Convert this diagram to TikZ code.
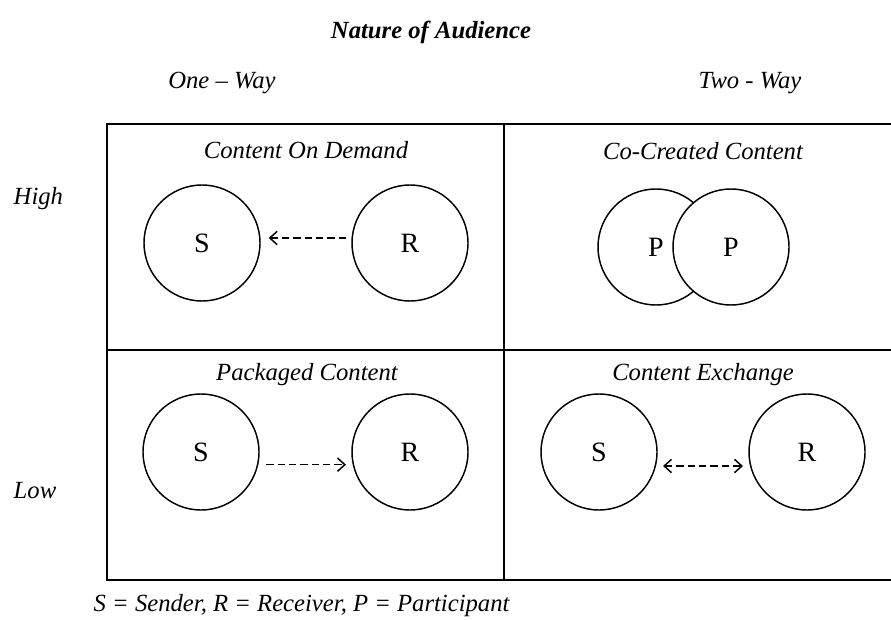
\documentclass[tikz,border=0pt]{standalone}
\usepackage{fontspec}
\setmainfont{Liberation Serif}
\usetikzlibrary{arrows.meta,positioning}

\tikzset{
  lbl/.style={font=\fontsize{18.5}{22}\selectfont\itshape},
  party/.style={circle,draw,line width=1.1pt,minimum size=87pt,inner sep=0pt,
    font=\fontsize{21}{24}\selectfont},
  flow/.style={line width=1.1pt,dash pattern=on 5.5pt off 3pt,
    -{Straight Barb[length=5.5pt,width=10pt,line width=1.1pt]}}
}

\begin{document}
\begin{tikzpicture}[x=0.75pt,y=-0.75pt]
 \useasboundingbox (0,0) rectangle (891,620);
 \node[lbl,font=\fontsize{18.5}{22}\selectfont\bfseries\itshape] (title) at (431,32) {Nature of Audience};
 \node[lbl] (oneway) at (222,83) {One -- Way};
 \node[lbl] (twoway) at (750,83) {Two - Way};
 \node[lbl,anchor=west] (high) at (9,199) {High};
 \node[lbl,anchor=west] (low) at (9,491) {Low};
 \node[lbl,anchor=west] (key) at (89,606) {S = Sender, R = Receiver, P = Participant};
 \draw[line width=1.6pt] (107,124) rectangle (895,580);
 \draw[line width=1.6pt] (504,124) -- (504,580);
 \draw[line width=1.6pt] (107,350) -- (895,350);
 \foreach \x/\y/\t in {306/150/Content On Demand,703/151/Co-Created Content,
   307/375/Packaged Content,703/375/Content Exchange}
   {\node[lbl] at (\x,\y) {\t};}
 \node[party] (sa) at (202,243) {S};
 \node[party] (ra) at (410,243) {R};
 \node[party] (pa) at (656,247) {P};
 \node[party,fill=white] (pb) at (731,247) {P};
 \node[party] (sb) at (201,452) {S};
 \node[party] (rb) at (410,452) {R};
 \node[party] (sc) at (599,452) {S};
 \node[party] (rc) at (807,452) {R};
 \draw[flow,shorten <=4pt,shorten >=6pt] ([yshift=3.75pt]ra.west) -- ([yshift=3.75pt]sa.east);
 \draw[flow,shorten <=5pt,shorten >=4pt] ([yshift=-9.5pt]sb.east) -- ([yshift=-9.5pt]rb.west);
 \draw[flow,{Straight Barb[length=5.5pt,width=10pt,line width=1.1pt]}-{Straight Barb[length=5.5pt,width=10pt,line width=1.1pt]},shorten <=4pt,shorten >=4pt] ([yshift=-10.5pt]sc.east) -- ([yshift=-10.5pt]rc.west);
\end{tikzpicture}
\end{document}
